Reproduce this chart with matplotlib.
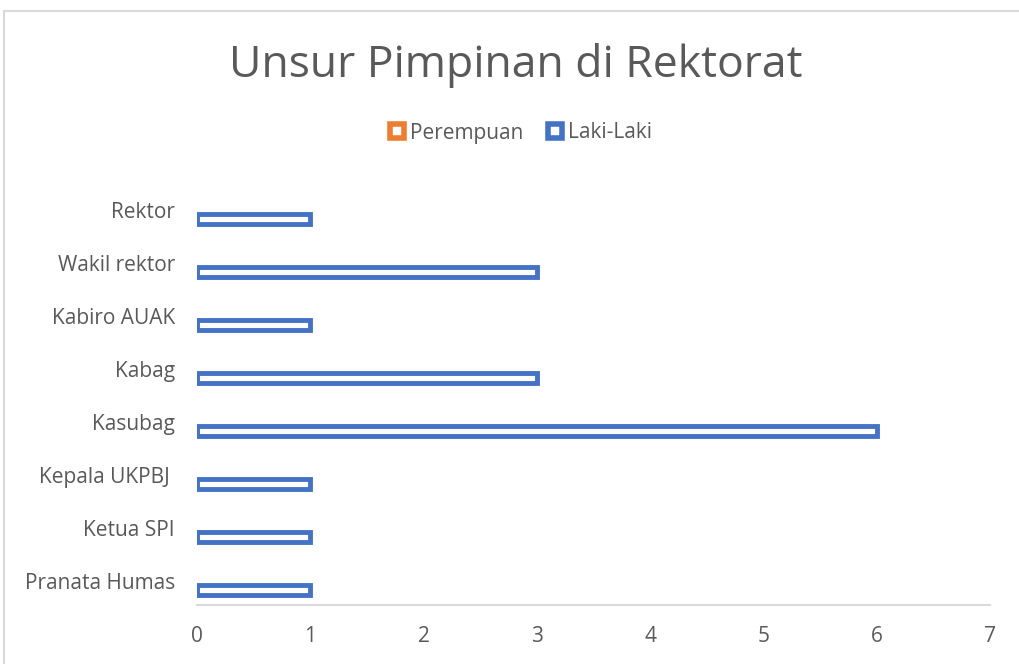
import numpy as np
import matplotlib.pyplot as plt
from matplotlib.patches import Patch, Rectangle

categories = ["Rektor", "Wakil rektor", "Kabiro AUAK", "Kabag", "Kasubag",
              "Kepala UKPBJ ", "Ketua SPI", "Pranata Humas"]
perempuan = [0, 0, 0, 0, 0, 0, 0, 0]
laki_laki = [1, 3, 1, 3, 6, 1, 1, 1]

grey = "#595959"
blue = "#4472C4"
orange = "#ED7D31"
plt.rcParams['font.family'] = ['Open Sans', 'DejaVu Sans']

fig = plt.figure(figsize=(10.2, 6.64), dpi=100)
ax = fig.add_axes([197 / 1020, 1 - 605 / 664, (990 - 197) / 1020, (605 - 181) / 664])

y = np.arange(len(categories))
h = 0.19
# zero-length bars are not drawn by Excel, so no outline for them
ax.barh(y - 0.21, perempuan, height=h, color="white", edgecolor=orange,
        linewidth=[3.5 if v else 0 for v in perempuan])
ax.barh(y + 0.21, laki_laki, height=h, color="white", edgecolor=blue,
        linewidth=[3.5 if v else 0 for v in laki_laki])

ax.set_ylim(len(categories) - 0.5, -0.5)
ax.set_xlim(0, 7)
ax.set_xticks(range(0, 8))
ax.set_yticks(y + 0.04)
ax.set_yticklabels(categories)
ax.tick_params(axis="y", length=0, pad=16, labelsize=15, labelcolor=grey)
ax.tick_params(axis="x", length=0, pad=15, labelsize=15, labelcolor=grey)
for s in ["top", "right", "left"]:
    ax.spines[s].set_visible(False)
ax.spines["bottom"].set_color("#D9D9D9")
ax.spines["bottom"].set_linewidth(1.5)

fig.text(516 / 1020, 1 - 66 / 664, "Unsur Pimpinan di Rektorat", ha="center", va="center",
         fontsize=32, color=grey)

handles = [Patch(facecolor="white", edgecolor=orange, linewidth=4, label="Perempuan"),
           Patch(facecolor="white", edgecolor=blue, linewidth=4, label="Laki-Laki")]
fig.legend(handles=handles, loc="center", bbox_to_anchor=(521 / 1020, 1 - 133 / 664), ncol=2,
           frameon=False, fontsize=15, labelcolor=grey, handlelength=0.65, handleheight=0.65,
           handletextpad=0.3, columnspacing=1.2)

# chart border (partly cropped)
fig.patches.append(Rectangle((4 / 1020, -0.1), 1.2, 1 - 11 / 664 + 0.1, transform=fig.transFigure,
                             fill=False, edgecolor="#D9D9D9", linewidth=1.5))

fig.savefig("out.png", dpi=100)
